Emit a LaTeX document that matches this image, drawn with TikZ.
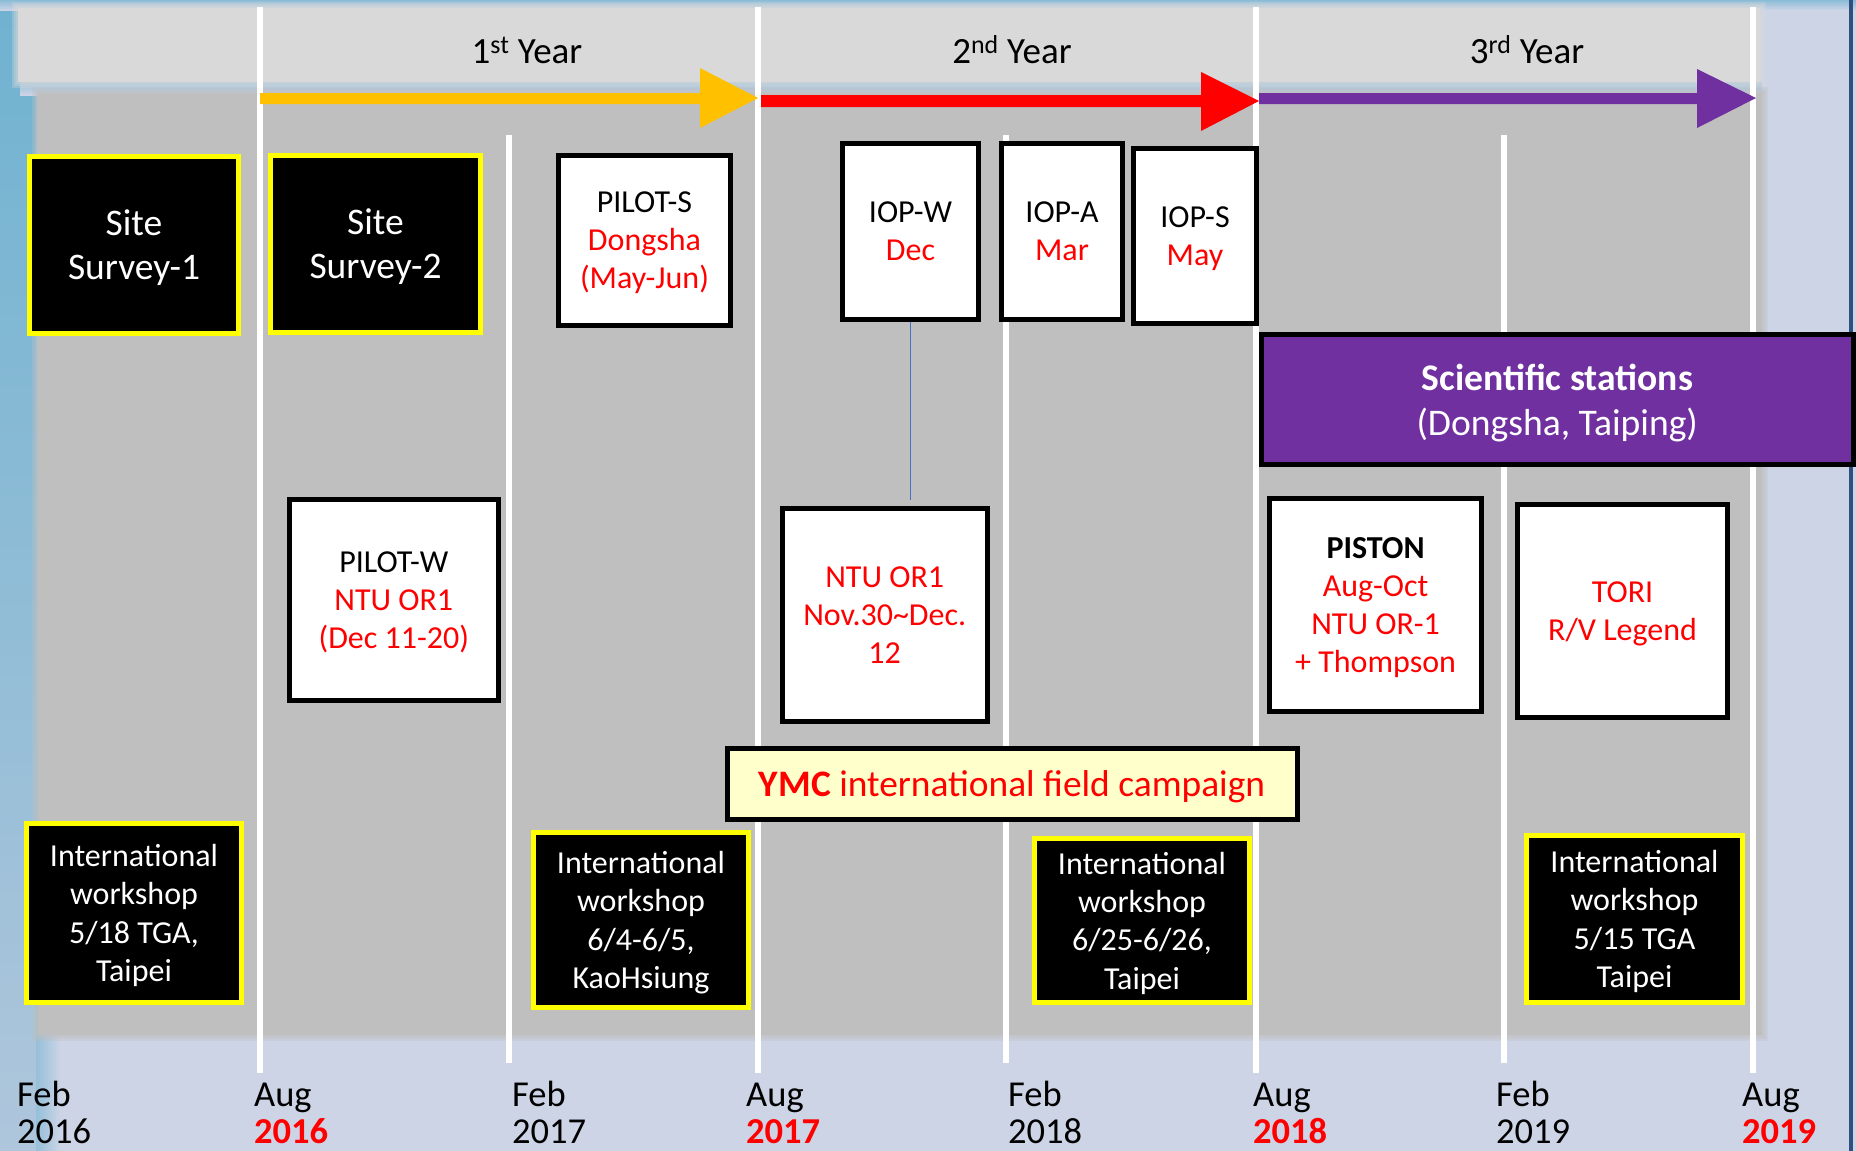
\documentclass[tikz,border=0pt]{standalone}
\usepackage{fontspec}
\setmainfont{Carlito}
\definecolor{bgc}{HTML}{CCD4E6}
\definecolor{leftblueA}{HTML}{6FB2D0}
\definecolor{leftblueB}{HTML}{AFC6DC}
\definecolor{topband}{HTML}{D9D9D9}
\definecolor{maingray}{HTML}{BFBFBF}
\definecolor{arrowyellow}{HTML}{FFC000}
\definecolor{arrowred}{HTML}{FF0000}
\definecolor{stationpurple}{HTML}{7030A0}
\definecolor{wsyellow}{HTML}{FFFF00}
\definecolor{ymcfill}{HTML}{FFFFCC}
\definecolor{linkblue}{HTML}{4472C4}
\definecolor{edgenavy}{HTML}{2F4F80}
\newcommand\fnbox{\fontsize{32}{38}\selectfont}
\newcommand\fnsite{\fontsize{37.5}{44}\selectfont}
\newcommand\fnyear{\fontsize{37}{44}\selectfont}
\newcommand\fnsci{\fontsize{37.6}{45}\selectfont}
\newcommand\fnymc{\fontsize{37.4}{44}\selectfont}
\newcommand\fnlab{\fontsize{36.5}{36.5}\selectfont}
\newcommand\fnws{\fontsize{32}{38.3}\selectfont}
\tikzset{
  blackbox/.style={draw=wsyellow, fill=black, text=white, line width=5pt,
    inner sep=0pt, align=center, text depth=0pt},
  whitebox/.style={draw=black, fill=white, text=black, line width=5pt,
    inner sep=0pt, align=center, font=\fnbox, text depth=0pt},
  whiteline/.style={draw=white, line width=6pt},
  bluelink/.style={draw=linkblue, line width=1.5pt},
  datelabel/.style={anchor=base west, align=left, font=\fnlab, inner sep=0pt},
  yearlabel/.style={anchor=base, font=\fnyear, inner sep=0pt}
}
\begin{document}
\begin{tikzpicture}[x=1pt,y=-1pt]
\useasboundingbox (0,0) rectangle (1856,1151);
% page background
\fill[bgc] (0,0) rectangle (1856,1151);
\shade[top color=leftblueA, bottom color=leftblueB] (0,0) rectangle (36,1151);
\shade[left color=leftblueA!60!bgc, right color=bgc] (36,0) rectangle (60,1151);
\shade[top color=leftblueA!70!bgc, bottom color=bgc] (0,0) rectangle (1856,10);
\shade[top color=leftblueA!55!bgc, bottom color=bgc] (20,82) rectangle (1762,95);
\draw[edgenavy, line width=4pt] (1850.5,0) -- (1850.5,1151);
% bands (with soft edges)
\foreach \e in {6,4,2} {
  \fill[topband, opacity=0.3] (18-\e,8-\e) rectangle (1760+\e,82+\e);
  \fill[maingray, opacity=0.3] (38-\e,93-\e) rectangle (1762+\e,1035+\e);
}
\fill[topband] (18,8) rectangle (1760,82);
\fill[maingray] (38,93) rectangle (1762,1035);
% vertical time lines
\draw[whiteline] (260,7) -- (260,1073);
\draw[whiteline] (758,7) -- (758,1073);
\draw[whiteline] (1256,7) -- (1256,1073);
\draw[whiteline] (1753,7) -- (1753,1073);
\draw[whiteline] (509,135) -- (509,1063);
\draw[whiteline] (1006,135) -- (1006,1063);
\draw[whiteline] (1504,135) -- (1504,1063);
% year arrows
\fill[arrowyellow] (260,93) -- (700,93) -- (700,68) -- (758,98) -- (700,128) -- (700,104) -- (260,104) -- cycle;
\fill[arrowred] (761,95) -- (1201,95) -- (1201,72) -- (1259,101) -- (1201,131) -- (1201,107) -- (761,107) -- cycle;
\fill[stationpurple] (1259,93) -- (1697,93) -- (1697,69) -- (1756,98) -- (1697,128) -- (1697,104) -- (1259,104) -- cycle;
% year labels
\node[yearlabel] (yr1) at (527,63) {1\textsuperscript{st} Year};
\node[yearlabel] (yr2) at (1012,63) {2\textsuperscript{nd} Year};
\node[yearlabel] (yr3) at (1527,63) {3\textsuperscript{rd} Year};
% top row boxes
\node[blackbox, font=\fnsite, minimum width=209.5pt, minimum height=177pt] (ss1) at (134,245) {Site\\Survey-1};
\node[blackbox, font=\fnsite, minimum width=210pt, minimum height=177pt] (ss2) at (375.5,244) {Site\\Survey-2};
\node[whitebox, minimum width=172pt, minimum height=170pt] (pilots) at (644.5,240.5) {PILOT-S\\\textcolor{red}{Dongsha}\\\textcolor{red}{(May-Jun)}};
\node[whitebox, minimum width=136pt, minimum height=176pt] (iopw) at (910.5,231.5) {IOP-W\\\textcolor{red}{Dec}};
\node[whitebox, minimum width=121pt, minimum height=176pt] (iopa) at (1062,231.5) {IOP-A\\\textcolor{red}{Mar}};
\node[whitebox, minimum width=123pt, minimum height=175pt] (iops) at (1195,236) {IOP-S\\\textcolor{red}{May}};
% scientific stations
\node[draw=black, fill=stationpurple, text=white, line width=5pt, inner sep=0pt, align=center, font=\fnsci,
  text depth=0pt, minimum width=592.5pt, minimum height=130pt] (sci) at (1557.25,399.5) {\textbf{Scientific stations}\\(Dongsha, Taiping)};
% middle row boxes
\node[whitebox, minimum width=209.5pt, minimum height=201pt] (pilotw) at (393.8,600) {PILOT-W\\\textcolor{red}{NTU OR1}\\\textcolor{red}{(Dec 11-20)}};
\node[whitebox, minimum width=205pt, minimum height=213pt] (ntu) at (884.7,615) {\textcolor{red}{NTU OR1}\\\textcolor{red}{Nov.30\char"7E Dec.}\\\textcolor{red}{12}};
\node[whitebox, minimum width=211.5pt, minimum height=213pt] (piston) at (1375.6,605) {\textbf{PISTON}\\\textcolor{red}{Aug-Oct}\\\textcolor{red}{NTU OR-1}\\\textcolor{red}{+ Thompson}};
\node[whitebox, minimum width=210.7pt, minimum height=213pt] (tori) at (1622.6,611) {\textcolor{red}{TORI}\\\textcolor{red}{R/V Legend}};
% connector IOP-W -> NTU OR1
\coordinate (ntutop) at (910.5,500);
\draw[bluelink] (iopw.south) -- (ntutop);
% YMC campaign
\node[draw=black, fill=ymcfill, line width=5pt, inner sep=0pt, font=\fnymc, text depth=0pt,
  minimum width=570pt, minimum height=71pt] (ymc) at (1012,784) {\textcolor{red}{\textbf{YMC} international field campaign}};
% workshops
\node[blackbox, font=\fnws, minimum width=215pt, minimum height=179pt] (ws1) at (134,913) {International\\workshop\\5/18 TGA,\\Taipei};
\node[blackbox, font=\fnws, minimum width=215pt, minimum height=175pt] (ws2) at (641,920) {International\\workshop\\6/4-6/5,\\KaoHsiung};
\node[blackbox, font=\fnws, minimum width=215.5pt, minimum height=164pt] (ws3) at (1142,920.5) {International\\workshop\\6/25-6/26,\\Taipei};
\node[blackbox, font=\fnws, minimum width=216pt, minimum height=167pt] (ws4) at (1634.5,919) {International\\workshop\\5/15 TGA\\Taipei};
% date labels (anchored at the baseline of the second line)
\node[datelabel] (d1) at (17,1143) {Feb\\2016};
\node[datelabel] (d2) at (254,1143) {Aug\\\textcolor{red}{\textbf{2016}}};
\node[datelabel] (d3) at (512,1143) {Feb\\2017};
\node[datelabel] (d4) at (746,1143) {Aug\\\textcolor{red}{\textbf{2017}}};
\node[datelabel] (d5) at (1008,1143) {Feb\\2018};
\node[datelabel] (d6) at (1253,1143) {Aug\\\textcolor{red}{\textbf{2018}}};
\node[datelabel] (d7) at (1496,1143) {Feb\\2019};
\node[datelabel] (d8) at (1742,1143) {Aug\\\textcolor{red}{\textbf{2019}}};
\end{tikzpicture}
\end{document}
